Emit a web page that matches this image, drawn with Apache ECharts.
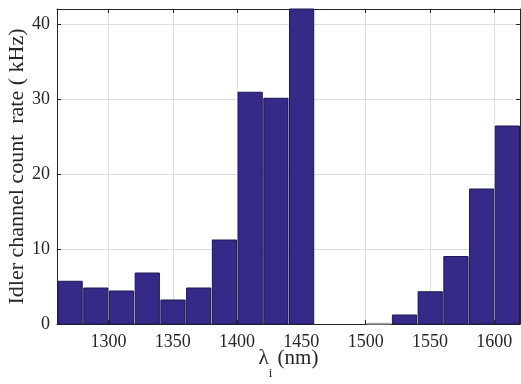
<!DOCTYPE html>
<html>
<head>
<meta charset="utf-8">
<script src="https://cdn.jsdelivr.net/npm/echarts@6/dist/echarts.min.js"></script>
<style>
  html, body { margin: 0; padding: 0; background: #fff; }
  #chart { width: 521px; height: 384px; }
</style>
</head>
<body>
<div id="chart"></div>
<script>
// histogram bins (left edge, nm) and idler count rate (kHz)
const binStarts = [1260, 1280, 1300, 1320, 1340, 1360, 1380, 1400, 1420, 1440,
                   1460, 1480, 1500, 1520, 1540, 1560, 1580, 1600]
const counts = [5.7, 4.8, 4.4, 6.8, 3.2, 4.8, 11.2, 30.9, 30.1, 45,
                0, 0, 0.1, 1.2, 4.3, 9.0, 18.0, 26.4]
const binWidth = 20

const xTicks = [1300, 1350, 1400, 1450, 1500, 1550, 1600]
const yTicks = [0, 10, 20, 30, 40]

const font = 'Liberation Serif'
const ink = '#262626'

const chart = echarts.init(document.getElementById('chart'))

const frame = (extra) => Object.assign({
  type: 'value',
  axisLine: { show: true, onZero: false, lineStyle: { color: ink, width: 1 } },
  axisTick: { show: true, inside: true, length: 4, lineStyle: { color: ink, width: 1 } },
  splitLine: { show: false }
}, extra)

chart.setOption({
  animation: false,
  grid: { left: 57, right: 1, top: 9, bottom: 60, containLabel: false, outerBoundsMode: 'none' },
  xAxis: [
    frame({
      position: 'bottom', min: 1260, max: 1620,
      axisTick: { show: true, inside: true, length: 4, customValues: xTicks, lineStyle: { color: ink } },
      axisLabel: { customValues: xTicks, formatter: v => String(v), fontFamily: font, fontSize: 18, color: ink, margin: 9 },
      splitLine: { show: true, lineStyle: { color: '#dedede', width: 1 } },
      name: '{a|λ}{s|i}{a| (nm)}',
      nameLocation: 'middle',
      nameGap: 24,
      nameMoveOverlap: false,
      nameTextStyle: {
        rich: {
          a: { fontFamily: font, fontSize: 21, color: ink, lineHeight: 21, verticalAlign: 'top' },
          s: { fontFamily: font, fontSize: 13, color: ink, lineHeight: 32, verticalAlign: 'bottom' }
        }
      }
    }),
    frame({
      position: 'top', min: 1260, max: 1620,
      axisTick: { show: true, inside: true, length: 4, customValues: xTicks, lineStyle: { color: ink } },
      axisLabel: { show: false }
    })
  ],
  yAxis: [
    frame({
      position: 'left', min: 0, max: 42,
      axisTick: { show: true, inside: true, length: 4, customValues: yTicks, lineStyle: { color: ink } },
      axisLabel: { customValues: yTicks, fontFamily: font, fontSize: 18, color: ink, margin: 7 },
      splitLine: { show: true, lineStyle: { color: '#dedede', width: 1 } },
      name: 'Idler channel count  rate ( kHz)',
      nameLocation: 'middle',
      nameGap: 29,
      nameMoveOverlap: false,
      nameTextStyle: { fontFamily: font, fontSize: 22, color: ink }
    }),
    frame({
      position: 'right', min: 0, max: 42,
      axisTick: { show: true, inside: true, length: 4, customValues: yTicks, lineStyle: { color: ink } },
      axisLabel: { show: false }
    })
  ],
  series: [{
    type: 'custom',
    xAxisIndex: 0,
    yAxisIndex: 0,
    encode: { x: 0, y: 1 },
    data: binStarts.map((b, i) => [b, counts[i]]),
    renderItem: (params, api) => {
      const x0 = api.value(0)
      const h = api.value(1)
      if (!h) return null
      const p0 = api.coord([x0, 0])
      const p1 = api.coord([x0 + binWidth, h])
      const cs = params.coordSys
      // leave a thin light gap between neighbouring bins
      const shape = echarts.graphic.clipRectByRect(
        { x: p0[0] + 1, y: p1[1], width: p1[0] - p0[0] - 1.5, height: p0[1] - p1[1] },
        { x: cs.x, y: cs.y, width: cs.width, height: cs.height }
      )
      if (!shape) return null
      return {
        type: 'rect',
        shape,
        style: { fill: '#352a87', stroke: h < 0.5 ? '#b0b0b0' : '#1c1850', lineWidth: 1 }
      }
    }
  }]
})
</script>
</body>
</html>
